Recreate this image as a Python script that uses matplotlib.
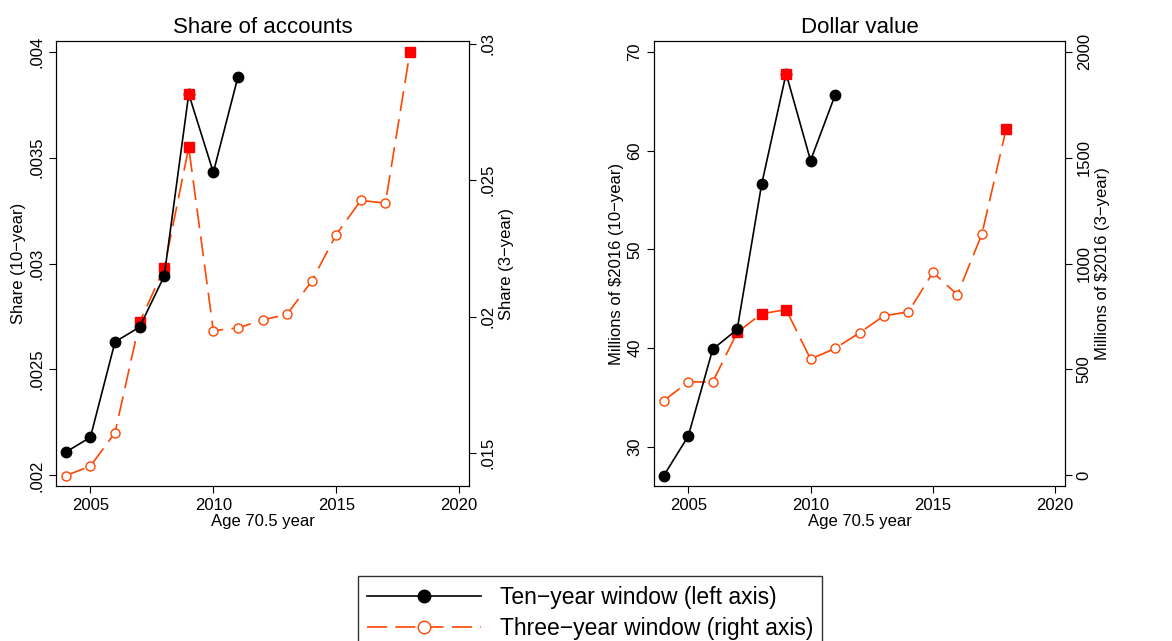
import matplotlib
matplotlib.use("Agg")
import matplotlib.pyplot as plt
from matplotlib.lines import Line2D

plt.rcParams['font.family'] = ['Liberation Sans', 'DejaVu Sans']

years10 = [2004, 2005, 2006, 2007, 2008, 2009, 2010, 2011]
years3 = list(range(2004, 2019))

share10 = [.00211, .00218, .00263, .0027, .00294, .0038, .00343, .00388]
share3 = [.01418, .01453, .01575, .0198, .02177, .0262, .01949, .01959,
          .01988, .02009, .0213, .02301, .02426, .02416, .02971]
dollar10 = [27.1, 31.1, 39.9, 41.9, 56.6, 67.8, 59.0, 65.6]
dollar3 = [353, 441, 441, 675, 763, 782, 549, 599, 673, 753, 772, 958, 853, 1138, 1637]

# years highlighted with red squares
hl10 = [2009]
hl3 = [2007, 2008, 2009, 2018]

BLACK = 'black'
ORANGE = '#ff4500'
RED = '#ff0000'
DASH = (0, (12, 5))


def panel(rect, title, y10, y3, lim10, ticks10, lab10, lim3, ticks3, lab3, ylab10, ylab3):
    ax = fig.add_axes(rect)
    ax2 = ax.twinx()
    ax.plot(years10, y10, color=BLACK, lw=1.2, marker='o', ms=7.5, zorder=3)
    ax2.plot(years3, y3, color=ORANGE, lw=1.2, ls=DASH, marker='o', ms=6.5,
             mfc='white', mec=ORANGE, mew=1.0)
    ax.plot(hl10, [y10[years10.index(y)] for y in hl10],
            ls='none', marker='s', ms=7, color=RED, zorder=4)
    ax2.plot(hl3, [y3[years3.index(y)] for y in hl3],
             ls='none', marker='s', ms=7, color=RED, zorder=4)
    ax.set_zorder(ax2.get_zorder() + 1)
    ax.patch.set_visible(False)
    ax.set_xlim(2003.6, 2020.4)
    ax.set_xticks([2005, 2010, 2015, 2020])
    ax.set_ylim(*lim10)
    ax.set_yticks(ticks10)
    ax.set_yticklabels(lab10, rotation=90, va='center')
    ax2.set_ylim(*lim3)
    ax2.set_yticks(ticks3)
    ax2.set_yticklabels(lab3, rotation=90, va='center')
    for a in (ax, ax2):
        a.tick_params(labelsize=12, length=5)
    ax.set_xlabel('Age 70.5 year', fontsize=12, labelpad=1)
    ax.set_ylabel(ylab10, fontsize=12, labelpad=2)
    ax2.set_ylabel(ylab3, fontsize=12, labelpad=2)
    ax.set_title(title, fontsize=16, pad=6)


fig = plt.figure(figsize=(11.72, 6.41), dpi=100)
W, H = 1172, 641
panel([56 / W, 1 - 486 / H, 413 / W, 445 / H], 'Share of accounts',
      share10, share3,
      (.00195, .00405), [.002, .0025, .003, .0035, .004],
      ['.002', '.0025', '.003', '.0035', '.004'],
      (.0138, .0301), [.015, .02, .025, .03], ['.015', '.02', '.025', '.03'],
      'Share (10\u2212year)', 'Share (3\u2212year)')
panel([654 / W, 1 - 486 / H, 411 / W, 445 / H], 'Dollar value',
      dollar10, dollar3,
      (26.05, 71.1), [30, 40, 50, 60, 70], ['30', '40', '50', '60', '70'],
      (-50, 2050), [0, 500, 1000, 1500, 2000], ['0', '500', '1000', '1500', '2000'],
      'Millions of $2016 (10\u2212year)', 'Millions of $2016 (3\u2212year)')

handles = [Line2D([], [], color=BLACK, lw=1.2, marker='o', ms=9),
           Line2D([], [], color=ORANGE, lw=1.2, ls=DASH, marker='o', ms=9,
                  mfc='white', mec=ORANGE)]
leg = fig.legend(handles, ['Ten\u2212year window (left axis)', 'Three\u2212year window (right axis)'],
                 loc='upper center', bbox_to_anchor=(590 / W, 1 - 565 / H),
                 fontsize=16.5, frameon=True, fancybox=False, edgecolor='black',
                 handlelength=5, borderpad=0.4, labelspacing=0.35)
leg.get_frame().set_linewidth(1.0)

fig.savefig('out.png', dpi=100)
